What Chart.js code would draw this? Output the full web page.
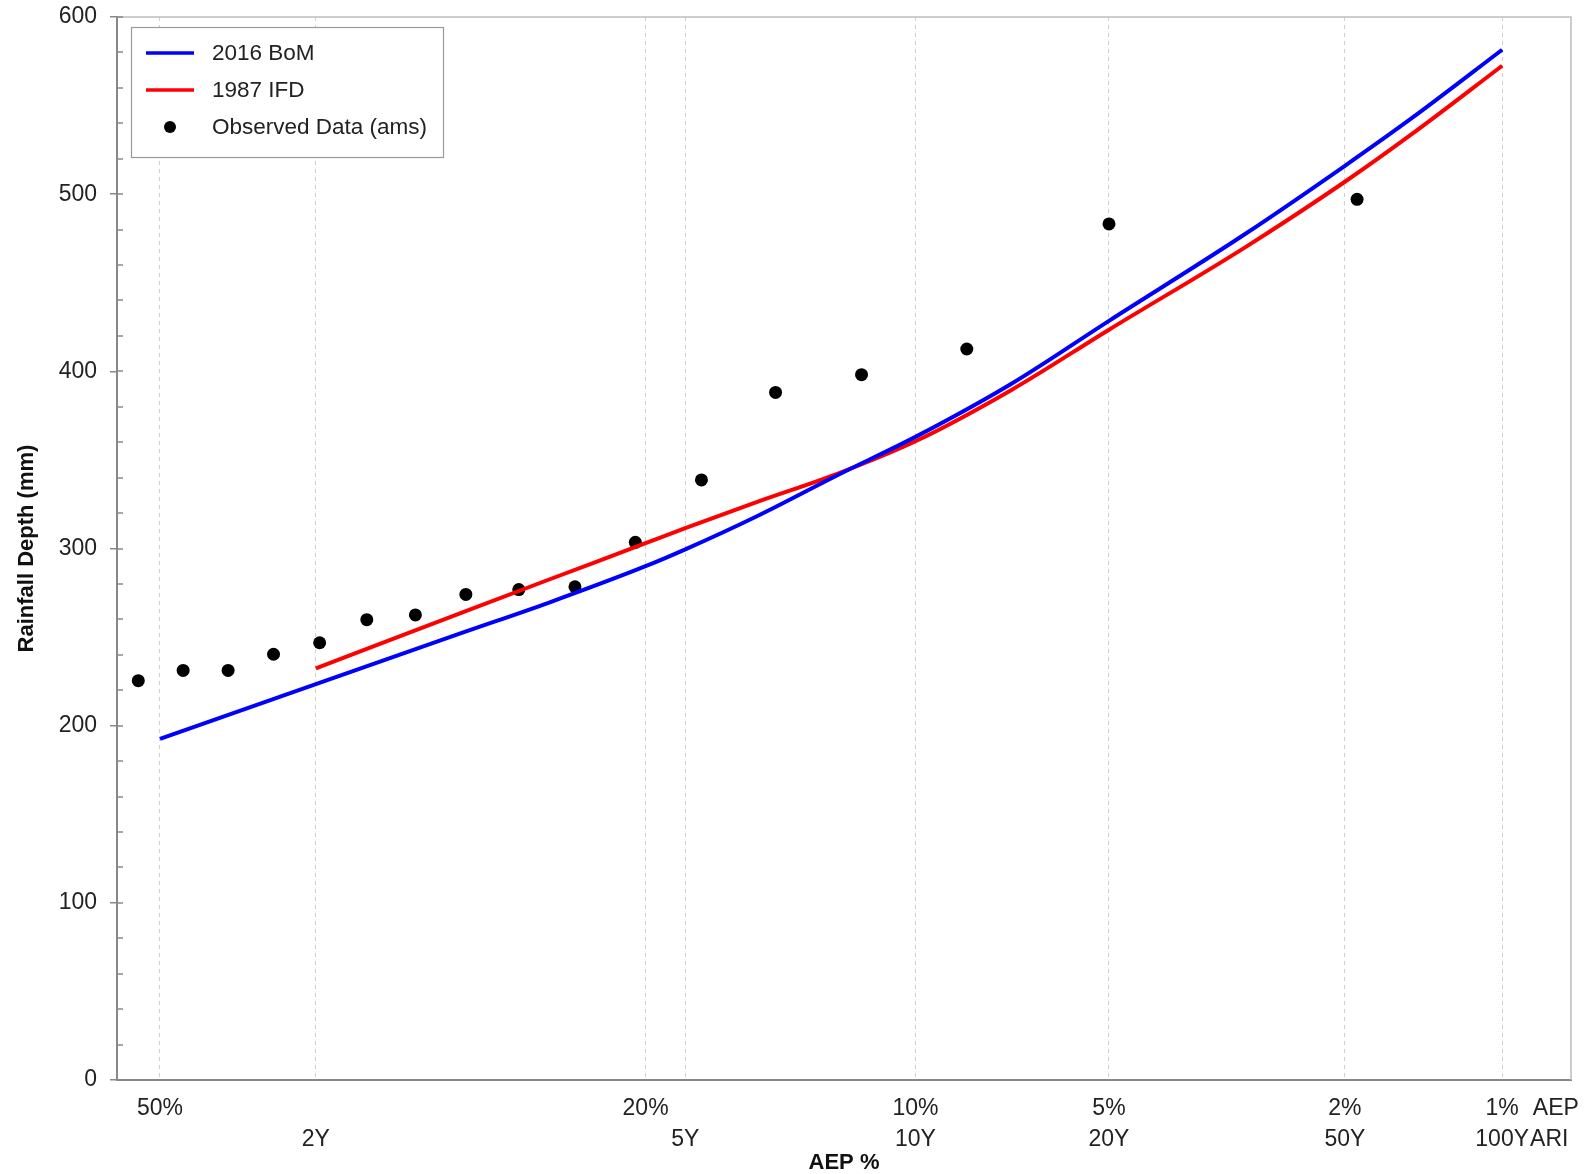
<!DOCTYPE html>
<html>
<head>
<meta charset="utf-8">
<title>Rainfall Depth vs AEP</title>
<script src="https://cdn.jsdelivr.net/npm/chart.js@4.4.1/dist/chart.umd.min.js"></script>
<style>
  html, body { margin: 0; padding: 0; background: #fff; }
  #wrap { width: 1587px; height: 1174px; position: relative; }
</style>
</head>
<body>
<div id="wrap"><canvas id="ifdChart"></canvas></div>
<script>
// x values are AEP in percent, y values are rainfall depth in mm
const bomAep = [50, 39.35, 30, 25, 20, 18.13, 15, 12, 9.52, 7, 5, 3, 2, 1.5, 1];
const bomDepth = [192.5, 223.5, 252.5, 269.5, 290, 299.5, 318.5, 341.5, 363, 393, 428.5, 477.5, 516, 543, 581.5];

const ifdAep = [39.35, 30, 25, 20, 18.13, 15, 12, 9.52, 7, 5, 3, 2, 1.5, 1];
const ifdDepth = [232.4, 264, 282.5, 303, 311.5, 326.5, 342.3, 360.5, 389.5, 423.5, 470, 507, 534, 572.5];

const obsAep = [51.5, 48.4, 45.3, 42.2, 39.1, 36.0, 32.9, 29.8, 26.7, 23.6, 20.5, 17.4, 14.3, 11.2, 8.1, 5.0, 1.9];
const obsDepth = [225.4, 231.2, 231.2, 240.3, 246.8, 259.8, 262.5, 274.1, 276.8, 278.4, 303.5, 338.7, 388.1, 398.1, 412.6, 483.2, 497.1];

// x axis ticks (AEP %), with the AEP row and ARI row labels
const tickAep = [50, 39.35, 20, 18.13, 9.52, 5, 2, 1];
const tickTop = ['50%', '', '20%', '', '10%', '5%', '2%', '1%'];
const tickBottom = ['', '2Y', '', '5Y', '10Y', '20Y', '50Y', '100Y'];
const xLeftAep = 52.97;
const xRightAep = 0.723;

const FONT = "'Liberation Sans', Arial, sans-serif";

// inverse of the standard normal CDF (Acklam)
function normInv(p) {
  const a = [-39.69683028665376, 220.9460984245205, -275.9285104469687, 138.3577518672690, -30.66479806614716, 2.506628277459239];
  const b = [-54.47609879822406, 161.5858368580409, -155.6989798598866, 66.80131188771972, -13.28068155288572];
  const c = [-0.007784894002430293, -0.3223964580411365, -2.400758277161838, -2.549732539343734, 4.374664141464968, 2.938163982698783];
  const d = [0.007784695709041462, 0.3224671290700398, 2.445134137142996, 3.754408661907416];
  const plow = 0.02425;
  let q, r;
  if (p < plow) {
    q = Math.sqrt(-2 * Math.log(p));
    return (((((c[0] * q + c[1]) * q + c[2]) * q + c[3]) * q + c[4]) * q + c[5]) /
      ((((d[0] * q + d[1]) * q + d[2]) * q + d[3]) * q + 1);
  }
  if (p > 1 - plow) {
    q = Math.sqrt(-2 * Math.log(1 - p));
    return -(((((c[0] * q + c[1]) * q + c[2]) * q + c[3]) * q + c[4]) * q + c[5]) /
      ((((d[0] * q + d[1]) * q + d[2]) * q + d[3]) * q + 1);
  }
  q = p - 0.5;
  r = q * q;
  return (((((a[0] * r + a[1]) * r + a[2]) * r + a[3]) * r + a[4]) * r + a[5]) * q /
    (((((b[0] * r + b[1]) * r + b[2]) * r + b[3]) * r + b[4]) * r + 1);
}

// probability paper: AEP -> standard normal variate
function aepToZ(aep) {
  return -normInv(aep / 100);
}

function toPoints(aeps, depths) {
  return aeps.map((a, i) => ({ x: aepToZ(a), y: depths[i] }));
}

// top/right frame and inner minor ticks on the y axis
const framePlugin = {
  id: 'frame',
  afterDraw(chart) {
    const { ctx, chartArea: area } = chart;
    const ys = chart.scales.y;
    ctx.save();
    ctx.strokeStyle = '#bdbdbd';
    ctx.lineWidth = 1.5;
    ctx.beginPath();
    ctx.moveTo(area.left, area.top);
    ctx.lineTo(area.right, area.top);
    ctx.lineTo(area.right, area.bottom);
    ctx.stroke();

    ctx.strokeStyle = '#888';
    ctx.lineWidth = 1.5;
    for (let v = 0; v <= 600; v += 20) {
      const y = Math.round(ys.getPixelForValue(v));
      ctx.beginPath();
      ctx.moveTo(area.left, y);
      ctx.lineTo(area.left + 6, y);
      ctx.stroke();
    }
    ctx.restore();
  }
};

// the "AEP" / "ARI" words after the last tick
const axisUnitPlugin = {
  id: 'axisUnits',
  afterDraw(chart) {
    const { ctx } = chart;
    const xs = chart.scales.x;
    const x = xs.getPixelForValue(aepToZ(1));
    const y1 = xs.top + 13 + 15.5;
    const y2 = y1 + 31;
    ctx.save();
    ctx.font = '23px ' + FONT;
    ctx.fillStyle = '#222';
    ctx.textAlign = 'left';
    ctx.textBaseline = 'middle';
    ctx.fillText('AEP', x + ctx.measureText('1%').width / 2 + 14, y1);
    ctx.fillText('ARI', x + ctx.measureText('100Y').width / 2 + 1, y2);
    ctx.restore();
  }
};

// boxed legend in the top left corner of the plot
const legendPlugin = {
  id: 'boxLegend',
  afterDraw(chart) {
    const { ctx } = chart;
    const ds = chart.data.datasets;
    const bx = 131, by = 27, bw = 312, bh = 130;
    ctx.save();
    ctx.fillStyle = '#fff';
    ctx.fillRect(bx, by, bw, bh);
    ctx.strokeStyle = '#999';
    ctx.lineWidth = 1.2;
    ctx.strokeRect(bx + 0.5, by + 0.5, bw, bh);

    const rows = [53, 90, 127];
    ctx.font = '22.5px ' + FONT;
    ctx.textBaseline = 'middle';
    ctx.textAlign = 'left';
    ds.forEach((d, i) => {
      const y = rows[i];
      if (d.showLine === false) {
        ctx.fillStyle = d.backgroundColor;
        ctx.beginPath();
        ctx.arc(170, y, 6, 0, Math.PI * 2);
        ctx.fill();
      } else {
        ctx.strokeStyle = d.borderColor;
        ctx.lineWidth = 3.5;
        ctx.beginPath();
        ctx.moveTo(146, y);
        ctx.lineTo(194, y);
        ctx.stroke();
      }
      ctx.fillStyle = '#222';
      ctx.fillText(d.label, 212, y + 1);
    });
    ctx.restore();
  }
};

const ctx = document.getElementById('ifdChart').getContext('2d');
const chart = new Chart(ctx, {
  type: 'line',
  data: {
    datasets: [
      {
        label: '2016 BoM',
        data: toPoints(bomAep, bomDepth),
        borderColor: '#0000ff',
        backgroundColor: '#0000ff',
        borderWidth: 4,
        pointRadius: 0,
        cubicInterpolationMode: 'monotone',
        order: 0
      },
      {
        label: '1987 IFD',
        data: toPoints(ifdAep, ifdDepth),
        borderColor: '#ff0000',
        backgroundColor: '#ff0000',
        borderWidth: 4,
        pointRadius: 0,
        cubicInterpolationMode: 'monotone',
        order: 1
      },
      {
        label: 'Observed Data (ams)',
        data: toPoints(obsAep, obsDepth),
        showLine: false,
        backgroundColor: '#000',
        borderColor: '#000',
        borderWidth: 0,
        pointRadius: 6.5,
        order: 2
      }
    ]
  },
  options: {
    responsive: true,
    maintainAspectRatio: false,
    animation: false,
    layout: { padding: { top: 17, right: 16, left: 0, bottom: 0 } },
    plugins: {
      legend: { display: false },
      tooltip: { enabled: false }
    },
    scales: {
      x: {
        type: 'linear',
        min: aepToZ(xLeftAep),
        max: aepToZ(xRightAep),
        afterBuildTicks: (s) => { s.ticks = tickAep.map((a) => ({ value: aepToZ(a) })); },
        afterFit: (s) => { s.height = 94; },
        ticks: {
          autoSkip: false,
          maxRotation: 0,
          minRotation: 0,
          padding: 13,
          color: '#222',
          font: { family: FONT, size: 23, lineHeight: 1.35 },
          callback: (v, i) => [tickTop[i], tickBottom[i]]
        },
        grid: { color: '#d0d0d0', lineWidth: 1, drawTicks: false },
        border: { color: '#888', width: 2, dash: [4, 4] },
        title: {
          display: true,
          text: 'AEP %',
          color: '#111',
          font: { family: FONT, size: 22, weight: 'bold', lineHeight: 1 },
          padding: { top: 0, bottom: 0 }
        }
      },
      y: {
        min: 0,
        max: 600,
        afterFit: (s) => {
          s.width = 117;
          // keep the label overhang from pushing the plot down
          s.paddingTop = 0;
          s.paddingBottom = 0;
        },
        ticks: {
          stepSize: 100,
          padding: 13,
          color: '#222',
          font: { family: FONT, size: 23 }
        },
        grid: { drawOnChartArea: false, tickLength: 7, color: '#888', lineWidth: 1.5 },
        border: { color: '#888', width: 2 },
        title: {
          display: true,
          text: 'Rainfall Depth (mm)',
          color: '#111',
          font: { family: FONT, size: 22, weight: 'bold' },
          padding: { top: 14, bottom: 0 }
        }
      }
    }
  },
  plugins: [framePlugin, axisUnitPlugin, legendPlugin]
});
</script>
</body>
</html>
